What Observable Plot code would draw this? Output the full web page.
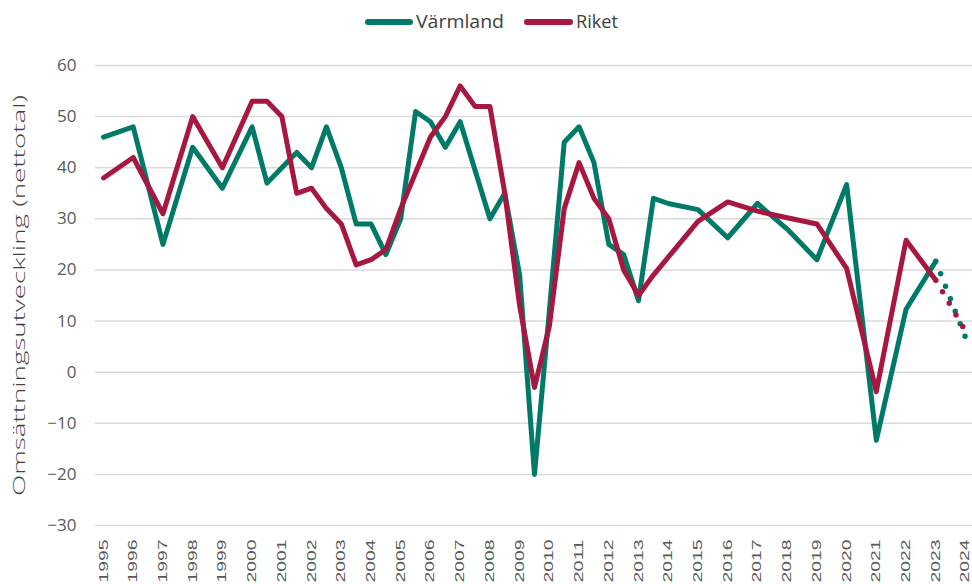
<!DOCTYPE html>
<html>
<head>
<meta charset="utf-8">
<script src="https://cdn.jsdelivr.net/npm/d3@7"></script>
<script src="https://cdn.jsdelivr.net/npm/@observablehq/plot@0.6"></script>
<style>
  body { margin: 0; background: #ffffff; }
  #legend, #chart { width: 972px; }
  svg { display: block; }
</style>
</head>
<body>
<div id="legend"></div>
<div id="chart"></div>
<script>
// ---- Data -----------------------------------------------------------------
const seriesNames = ["Värmland", "Riket"];
const seriesColors = ["#007a68", "#a8173f"];

const periods = [
  1995, 1996, 1997, 1998, 1999, 2000,
  2000.5, 2001, 2001.5, 2002, 2002.5, 2003, 2003.5, 2004, 2004.5, 2005,
  2005.5, 2006, 2006.5, 2007, 2007.5, 2008, 2008.5, 2009, 2009.5, 2010,
  2010.5, 2011, 2011.5, 2012, 2012.5, 2013, 2013.5,
  2014, 2015, 2016, 2017, 2018, 2019, 2020, 2021, 2022, 2023
];

const varmland = [
  46, 48, 25, 44, 36, 48,
  37, 40, 43, 40, 48, 40, 29, 29, 23, 30,
  51, 49, 44, 49, 39.5, 30, 35, 19, -20, 12,
  45, 48, 41, 25, 23, 14, 34,
  33, 31.8, 26.3, 33, 28, 22, 36.7, -13.3, 12.3, 21.7
];

const riket = [
  38, 42, 31, 50, 40, 53,
  53, 50, 35, 36, 32, 29, 21, 22, 24, 32,
  39, 46, 50, 56, 52, 52, 35, 13, -3, 9,
  32, 41, 34, 30, 20, 15, 19,
  22.5, 29.5, 33.3, 31.5, 30.2, 29, 20.3, -3.8, 25.8, 18
];

// Forecast (dotted) segment
const forecastPeriods = [2023, 2024];
const varmlandForecast = [21.7, 6.8];
const riketForecast = [18, 8];

const yearTicks = d3.range(1995, 2025);
const yTicks = [-30, -20, -10, 0, 10, 20, 30, 40, 50, 60];
const yLabel = "Omsättningsutveckling (nettotal)";

// ---- Tables built from the arrays ------------------------------------------
const actual = [
  ...periods.map((p, i) => ({period: p, value: varmland[i], series: seriesNames[0]})),
  ...periods.map((p, i) => ({period: p, value: riket[i], series: seriesNames[1]}))
];
const forecast = [
  ...forecastPeriods.map((p, i) => ({period: p, value: varmlandForecast[i], series: seriesNames[0]})),
  ...forecastPeriods.map((p, i) => ({period: p, value: riketForecast[i], series: seriesNames[1]}))
];

// ---- Legend (HTML-level SVG above the chart) --------------------------------
const legendItems = [
  {name: seriesNames[0], color: seriesColors[0], x0: 368, x1: 410, tx: 416, tl: 88},
  {name: seriesNames[1], color: seriesColors[1], x0: 527, x1: 570, tx: 576, tl: 42}
];
const lg = d3.select("#legend").append("svg").attr("width", 972).attr("height", 40);
legendItems.forEach(it => {
  lg.append("line")
    .attr("x1", it.x0).attr("x2", it.x1).attr("y1", 22).attr("y2", 22)
    .attr("stroke", it.color).attr("stroke-width", 6).attr("stroke-linecap", "round");
  lg.append("text")
    .attr("x", it.tx).attr("y", 28)
    .attr("font-family", "'Open Sans', sans-serif").attr("font-size", 18)
    .attr("fill", "#404040")
    .attr("textLength", it.tl).attr("lengthAdjust", "spacingAndGlyphs")
    .text(it.name);
});

// ---- Chart -------------------------------------------------------------------
const chart = Plot.plot({
  width: 972,
  height: 544,
  marginTop: 25,
  marginBottom: 59,
  marginLeft: 95,
  marginRight: 0,
  style: {color: "#595959", background: "#ffffff", fontFamily: "'Open Sans', sans-serif"},
  x: {domain: [1995 - 8 / 29.72, 2024 + 7 / 29.72]},
  y: {domain: [-30, 60]},
  color: {domain: seriesNames, range: seriesColors},
  marks: [
    Plot.ruleY(yTicks, {stroke: "#d9d9d9", strokeWidth: 1.5}),
    Plot.line(actual, {
      x: "period", y: "value", z: "series", stroke: "series",
      strokeWidth: 5, strokeLinejoin: "round", strokeLinecap: "round"
    }),
    Plot.line(forecast, {
      x: "period", y: "value", z: "series", stroke: "series",
      strokeWidth: 5.5, strokeLinecap: "round", strokeDasharray: "0 13.4"
    }),
    Plot.axisY({
      ticks: yTicks, tickSize: 0, tickPadding: 19, fontSize: 17,
      label: yLabel, labelAnchor: "center", labelArrow: "none", labelOffset: 82
    }),
    Plot.axisX({
      ticks: yearTicks, tickSize: 0, tickPadding: 14, tickRotate: -90,
      tickFormat: d => String(d), label: null, fontSize: 12.5,
      fontFamily: "'Liberation Sans', Arial, sans-serif"
    })
  ]
});

document.getElementById("chart").appendChild(chart);

// stretch texts to match the reference proportions
d3.select(chart).selectAll("g[aria-label='x-axis tick label'] text")
  .attr("textLength", 43).attr("lengthAdjust", "spacingAndGlyphs");
d3.select(chart).selectAll("g[aria-label='y-axis label'] text")
  .attr("textLength", 401).attr("lengthAdjust", "spacingAndGlyphs")
  .attr("font-size", 16).attr("font-weight", 300).attr("fill", "#404040");
</script>
</body>
</html>
